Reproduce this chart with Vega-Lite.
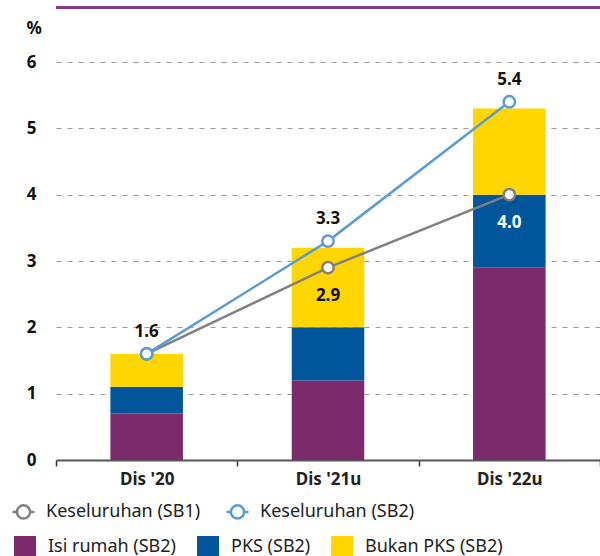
{
  "$schema": "https://vega.github.io/schema/vega-lite/v6.json",
  "width": 544,
  "height": 398,
  "autosize": {"type": "none"},
  "padding": {"left": 56, "top": 62, "right": 0, "bottom": 96},
  "background": "white",
  "config": {"view": {"stroke": null}, "font": "Noto Sans"},
  "datasets": {
    "bars": [
      {"period": "Dis '20", "component": "Isi rumah (SB2)", "seq": 1, "value": 0.7},
      {"period": "Dis '20", "component": "PKS (SB2)", "seq": 2, "value": 0.4},
      {"period": "Dis '20", "component": "Bukan PKS (SB2)", "seq": 3, "value": 0.5},
      {"period": "Dis '21u", "component": "Isi rumah (SB2)", "seq": 1, "value": 1.2},
      {"period": "Dis '21u", "component": "PKS (SB2)", "seq": 2, "value": 0.8},
      {"period": "Dis '21u", "component": "Bukan PKS (SB2)", "seq": 3, "value": 1.2},
      {"period": "Dis '22u", "component": "Isi rumah (SB2)", "seq": 1, "value": 2.9},
      {"period": "Dis '22u", "component": "PKS (SB2)", "seq": 2, "value": 1.1},
      {"period": "Dis '22u", "component": "Bukan PKS (SB2)", "seq": 3, "value": 1.3}
    ],
    "lines": [
      {"period": "Dis '20", "series": "Keseluruhan (SB1)", "value": 1.6},
      {"period": "Dis '21u", "series": "Keseluruhan (SB1)", "value": 2.9},
      {"period": "Dis '22u", "series": "Keseluruhan (SB1)", "value": 4.0},
      {"period": "Dis '20", "series": "Keseluruhan (SB2)", "value": 1.6},
      {"period": "Dis '21u", "series": "Keseluruhan (SB2)", "value": 3.3},
      {"period": "Dis '22u", "series": "Keseluruhan (SB2)", "value": 5.4}
    ]
  },
  "layer": [
    {
      "data": {"name": "bars"},
      "mark": {"type": "bar", "width": {"band": 0.4}},
      "encoding": {
        "x": {
          "field": "period", "type": "nominal",
          "sort": ["Dis '20", "Dis '21u", "Dis '22u"],
          "scale": {"paddingInner": 0, "paddingOuter": 0},
          "axis": {
            "title": null, "labelAngle": 0, "labelFontSize": 17, "labelFontWeight": "bold",
            "labelColor": "#222", "labelPadding": 5, "tickBand": "extent", "tickSize": 6,
            "tickColor": "#333", "tickWidth": 1.5, "domainColor": "#555", "domainWidth": 2, "grid": false
          }
        },
        "y": {
          "field": "value", "type": "quantitative", "stack": "zero",
          "scale": {"domain": [0, 6], "nice": false},
          "axis": {
            "title": "%", "titleAngle": 0, "titleAlign": "left", "titleBaseline": "middle",
            "titleX": -30, "titleY": -34, "titleFontSize": 17, "titleFontWeight": "bold", "titleColor": "#111",
            "values": [0, 1, 2, 3, 4, 5, 6], "format": "d", "labelFontSize": 17, "labelFontWeight": "bold", "labelColor": "#111",
            "labelPadding": 20, "domain": false, "ticks": false, "tickSize": 0,
            "grid": true, "gridDash": [5, 6], "gridColor": "#9a9a9a", "gridWidth": 1.2
          }
        },
        "fill": {
          "field": "component", "type": "nominal",
          "sort": ["Isi rumah (SB2)", "PKS (SB2)", "Bukan PKS (SB2)"],
          "scale": {"domain": ["Isi rumah (SB2)", "PKS (SB2)", "Bukan PKS (SB2)"], "range": ["#7B2A6B", "#00559B", "#FFD600"]},
          "legend": {
            "orient": "none", "legendX": -42, "legendY": 474, "direction": "horizontal", "title": null,
            "symbolType": "square", "symbolSize": 484, "symbolStrokeWidth": 0, "symbolOpacity": 1,
            "labelFontSize": 18, "labelColor": "#222", "labelOffset": 12, "columnPadding": 20, "padding": 0
          }
        },
        "order": {"field": "seq", "type": "quantitative", "sort": "ascending"}
      }
    },
    {
      "data": {"values": [{}]},
      "mark": {"type": "rule", "color": "#8B3B84", "strokeWidth": 3},
      "encoding": {"y": {"datum": 6.82}}
    },
    {
      "data": {"name": "lines"},
      "mark": {"type": "line", "strokeWidth": 2.5},
      "encoding": {
        "x": {"field": "period", "type": "nominal", "sort": ["Dis '20", "Dis '21u", "Dis '22u"]},
        "y": {"field": "value", "type": "quantitative"},
        "stroke": {
          "field": "series", "type": "nominal",
          "scale": {"domain": ["Keseluruhan (SB1)", "Keseluruhan (SB2)"], "range": ["#808080", "#5B9BD5"]},
          "legend": {
            "orient": "none", "legendX": -45, "legendY": 437, "direction": "horizontal", "title": null,
            "symbolType": "M-1,0L-0.6,0M0.6,0A0.6,0.6,0,1,1,-0.6,0A0.6,0.6,0,1,1,0.6,0M0.6,0L1,0",
            "symbolSize": 484, "symbolStrokeWidth": 2.5, "symbolFillColor": "white", "symbolOpacity": 1,
            "labelFontSize": 18, "labelColor": "#222", "labelOffset": 10, "columnPadding": 20, "padding": 0,
            "encode": {"symbols": {"update": {"fill": {"value": "white"}}}}
          }
        }
      }
    },
    {
      "data": {"name": "lines"},
      "mark": {"type": "point", "shape": "circle", "size": 130, "strokeWidth": 2.5, "filled": true, "fill": "white", "opacity": 1},
      "encoding": {
        "x": {"field": "period", "type": "nominal", "sort": ["Dis '20", "Dis '21u", "Dis '22u"]},
        "y": {"field": "value", "type": "quantitative"},
        "stroke": {"field": "series", "type": "nominal"}
      }
    },
    {
      "data": {"name": "lines"},
      "transform": [{"filter": "datum.series === 'Keseluruhan (SB2)'"}],
      "mark": {"type": "text", "dy": -22, "fontSize": 17, "fontWeight": "bold", "color": "#111"},
      "encoding": {
        "x": {"field": "period", "type": "nominal", "sort": ["Dis '20", "Dis '21u", "Dis '22u"]},
        "y": {"field": "value", "type": "quantitative"},
        "text": {"field": "value", "type": "quantitative", "format": ".1f"}
      }
    },
    {
      "data": {"name": "lines"},
      "transform": [{"filter": "datum.series === 'Keseluruhan (SB1)' && datum.period !== \"Dis '20\""}],
      "mark": {"type": "text", "dy": 28, "fontSize": 17, "fontWeight": "bold"},
      "encoding": {
        "x": {"field": "period", "type": "nominal", "sort": ["Dis '20", "Dis '21u", "Dis '22u"]},
        "y": {"field": "value", "type": "quantitative"},
        "text": {"field": "value", "type": "quantitative", "format": ".1f"},
        "color": {"condition": {"test": "datum.period === \"Dis '22u\"", "value": "white"}, "value": "#111"}
      }
    }
  ]
}
